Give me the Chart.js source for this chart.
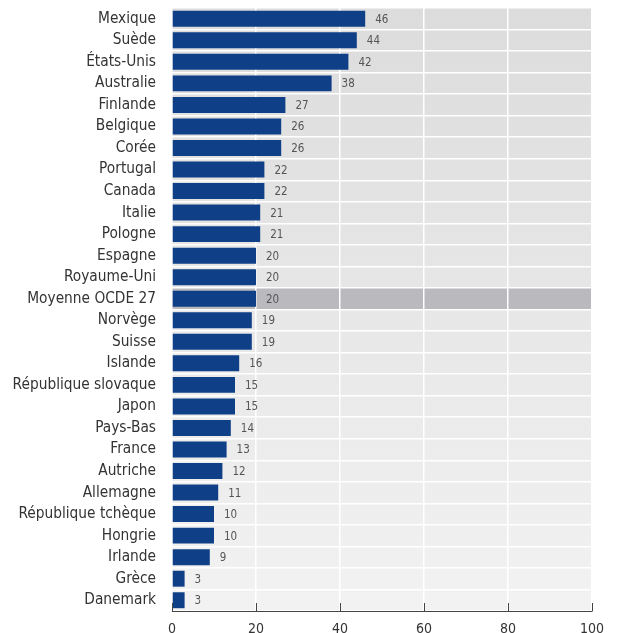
<!DOCTYPE html>
<html>
<head>
<meta charset="utf-8">
<script src="https://cdn.jsdelivr.net/npm/chart.js@4/dist/chart.umd.min.js"></script>
<style>
  html, body { margin: 0; padding: 0; background: #fff; }
  #wrap { width: 618px; height: 633px; }
</style>
</head>
<body>
<div id="wrap"><canvas id="chart" width="618" height="633"></canvas></div>
<script>
const countries = [
    "Mexique", "Suède", "États-Unis", "Australie", "Finlande", "Belgique", "Corée",
    "Portugal", "Canada", "Italie", "Pologne", "Espagne", "Royaume-Uni", "Moyenne OCDE 27",
    "Norvège", "Suisse", "Islande", "République slovaque", "Japon", "Pays-Bas", "France",
    "Autriche", "Allemagne", "République tchèque", "Hongrie", "Irlande", "Grèce", "Danemark"
];
const values = [
    46, 44, 42, 38, 27, 26, 26,
    22, 22, 21, 21, 20, 20, 20,
    19, 19, 16, 15, 15, 14, 13,
    12, 11, 10, 10, 9, 3, 3
];
const highlight = "Moyenne OCDE 27";
const xTicks = [0, 20, 40, 60, 80, 100];

const barBlue = "#0f3f86";
const labelFont = "'DejaVu Sans Condensed', 'Liberation Sans Narrow', Arial, sans-serif";

// background gradient + highlighted row band
const backdrop = {
    id: "backdrop",
    beforeDraw(chart) {
        const {ctx, chartArea: a, scales: {y}} = chart;
        ctx.save();
        const g = ctx.createLinearGradient(0, a.top, 0, a.bottom);
        g.addColorStop(0, "#dcdcdc");
        g.addColorStop(1, "#f2f2f2");
        ctx.fillStyle = g;
        ctx.fillRect(a.left, a.top, a.right - a.left, a.bottom - a.top);
        const i = countries.indexOf(highlight);
        const step = y.getPixelForValue(1) - y.getPixelForValue(0);
        const cy = y.getPixelForValue(i);
        ctx.fillStyle = "#b9b9be";
        ctx.fillRect(a.left, cy - step / 2, a.right - a.left, step);
        ctx.restore();
    }
};

// inward tick marks on the x axis + value labels
const extras = {
    id: "extras",
    afterDatasetsDraw(chart) {
        const {ctx, chartArea: a, scales: {x, y}} = chart;
        ctx.save();
        ctx.strokeStyle = "#444";
        ctx.lineWidth = 1;
        xTicks.forEach(t => {
            const px = Math.round(x.getPixelForValue(t)) + 0.5;
            ctx.beginPath();
            ctx.moveTo(px, a.bottom);
            ctx.lineTo(px, a.bottom - 8);
            ctx.stroke();
        });
        ctx.fillStyle = "#555";
        ctx.font = "11.5px " + labelFont;
        ctx.textBaseline = "middle";
        values.forEach((v, i) => {
            ctx.fillText(String(v), x.getPixelForValue(v) + 10, y.getPixelForValue(i) + 1);
        });
        ctx.restore();
    }
};

new Chart(document.getElementById("chart"), {
    type: "bar",
    data: {
        labels: countries,
        datasets: [{
            data: values,
            backgroundColor: barBlue,
            barPercentage: 0.74,
            categoryPercentage: 1
        }]
    },
    options: {
        indexAxis: "y",
        responsive: false,
        animation: false,
        layout: { padding: { top: 8, right: 26, left: 0, bottom: 0 } },
        plugins: { legend: { display: false }, tooltip: { enabled: false } },
        scales: {
            x: {
                min: 0,
                max: 100,
                afterBuildTicks(s) { s.ticks = xTicks.map(v => ({value: v})); },
                afterFit(s) { s.height = 22; s.paddingLeft = 0; s.paddingRight = 0; },
                grid: { color: "#ffffff", lineWidth: 1.5, drawTicks: false },
                border: { display: true, color: "#444", width: 1 },
                ticks: { color: "#333", padding: 10, font: { size: 14, family: labelFont } }
            },
            y: {
                afterFit(s) { s.width = 172; s.paddingTop = 0; s.paddingBottom = 0; },
                grid: { offset: true, color: "#ffffff", lineWidth: 1.5, drawTicks: false },
                border: { display: false },
                ticks: { color: "#333", padding: 16, autoSkip: false, font: { size: 15.3, family: labelFont } }
            }
        }
    },
    plugins: [backdrop, extras]
});
</script>
</body>
</html>
